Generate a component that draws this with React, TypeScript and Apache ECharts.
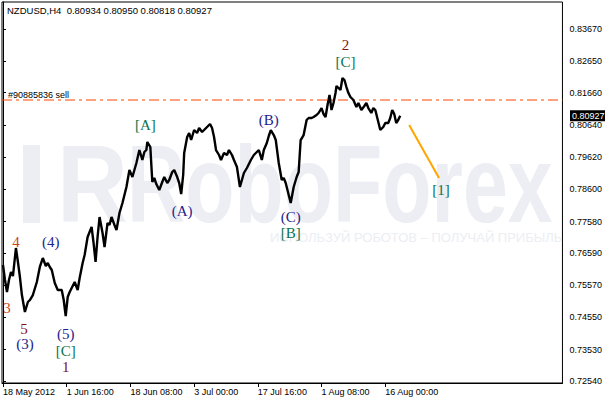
import React, { useEffect, useRef } from "react";
import * as echarts from "echarts";

// ---- data ----
const symbolTitle = "NZDUSD,H4";
const lastOhlc = ["0.80934", "0.80950", "0.80818", "0.80927"];
const yTicks = [0.7254, 0.7353, 0.7455, 0.7557, 0.7659, 0.7758, 0.786, 0.7962, 0.8064, 0.8166, 0.8265, 0.8367];
const xTicks = [0, 64, 128, 192, 256, 320, 384];
const xTickLabels = ["18 May 2012", "1 Jun 16:00", "18 Jun 08:00", "3 Jul 00:00", "17 Jul 16:00", "1 Aug 08:00", "16 Aug 00:00"];
const xRange = [-1, 562];
const yRange = [0.72477, 0.84524];
const sellPrice = 0.81425;
const sellLabel = "#90885836 sell";
const lastClose = 0.80927;

// [bar index (H4 bars from 18 May 2012), close]
const closes: [number, number][] = [
  [0, 0.76208], [2, 0.75734], [4, 0.75354], [6, 0.75734], [8, 0.75987], [10, 0.7586], [13, 0.76745], [15, 0.76303],
  [17, 0.75828], [19, 0.75259], [22, 0.74722], [25, 0.75038], [27, 0.75101], [30, 0.75259], [34, 0.7567], [37, 0.76145],
  [40, 0.76429], [43, 0.76176], [45, 0.76271], [47, 0.76145], [49, 0.7605], [52, 0.75639], [55, 0.75417], [59, 0.75417],
  [61, 0.75101], [63, 0.74595], [65, 0.75196], [67, 0.75354], [69, 0.75481], [72, 0.7567], [75, 0.75417], [77, 0.75797],
  [80, 0.76271], [82, 0.76524], [85, 0.77093], [87, 0.77251], [89, 0.77409], [91, 0.76903], [93, 0.76303], [95, 0.77093],
  [97, 0.77726], [100, 0.7722], [102, 0.76777], [105, 0.77536], [107, 0.77473], [109, 0.77726], [112, 0.77473], [114, 0.77315],
  [117, 0.77852], [120, 0.78168], [122, 0.78421], [124, 0.78674], [127, 0.79212], [130, 0.7899], [132, 0.79212], [134, 0.79433],
  [137, 0.79844], [140, 0.79528], [142, 0.79781], [144, 0.79844], [145, 0.80097], [148, 0.79939], [150, 0.78832], [152, 0.78959],
  [154, 0.78769], [157, 0.78579], [160, 0.78832], [162, 0.7899], [165, 0.78801], [167, 0.78896], [170, 0.79149], [172, 0.79212],
  [175, 0.7899], [177, 0.78801], [179, 0.78453], [181, 0.79054], [182, 0.79749], [185, 0.80255], [187, 0.80382], [189, 0.8016],
  [192, 0.80476], [195, 0.80382], [197, 0.8054], [200, 0.80413], [202, 0.80476], [205, 0.80571], [208, 0.80666], [210, 0.8054],
  [212, 0.80255], [214, 0.79844], [217, 0.79686], [219, 0.79528], [222, 0.79749], [225, 0.79686], [227, 0.79844], [230, 0.79686],
  [232, 0.79528], [235, 0.79307], [238, 0.78674], [240, 0.78896], [242, 0.79117], [245, 0.79275], [249, 0.79528], [252, 0.79686],
  [255, 0.79781], [257, 0.79844], [260, 0.79528], [262, 0.79844], [265, 0.80065], [267, 0.80287], [269, 0.80476], [272, 0.80318],
  [274, 0.8016], [277, 0.79433], [280, 0.78896], [282, 0.78959], [284, 0.78801], [287, 0.78421], [289, 0.78168], [292, 0.78674],
  [295, 0.7899], [297, 0.79149], [299, 0.8016], [302, 0.80318], [305, 0.80793], [307, 0.80856], [310, 0.80856], [312, 0.80888],
  [315, 0.80951], [317, 0.81014], [320, 0.81172], [322, 0.80982], [324, 0.80888], [326, 0.81267], [328, 0.81583], [330, 0.81109],
  [332, 0.8133], [334, 0.81646], [335, 0.81868], [337, 0.81804], [339, 0.81741], [341, 0.82121], [343, 0.82057], [345, 0.81836],
  [347, 0.81646], [349, 0.8152], [352, 0.81425], [355, 0.81204], [357, 0.8133], [360, 0.81109], [363, 0.81235], [365, 0.8133],
  [367, 0.81172], [370, 0.81014], [372, 0.81172], [374, 0.81109], [377, 0.80729], [379, 0.80476], [382, 0.80571], [384, 0.80698],
  [387, 0.80698], [389, 0.80856], [391, 0.81109], [393, 0.80982], [395, 0.80698], [397, 0.80793], [399, 0.80927],
];

const projectionWave: [number, number][] = [[408, 0.80635], [438, 0.78959]];

const waveLabels = ["4", "(4)", "3", "5", "(3)", "(5)", "[C]", "1", "[A]", "(A)", "(B)", "(C)", "[B]", "2", "[C]", "[1]"];
const waveIdx = [13, 48, 4, 21, 22, 63, 63, 63, 143, 180, 267, 289, 289, 344, 344, 440];
const wavePrice = [0.76935, 0.76935, 0.74848, 0.74184, 0.7371, 0.74026, 0.73489, 0.72983, 0.80635, 0.77915, 0.80793, 0.77726, 0.7722, 0.83164, 0.82627, 0.78579];

// ---- styles ----
const GREEN = "#0a7450";
const NAVY = "#23238c";
const digitColors: Record<string, string> = { "1": "#801030", "2": "#801818", "3": "#c8461e", "4": "#c8461e", "5": "#801010" };
const WM = "#eceef3";
const AXIS_FONT = '"Liberation Sans", Arial, sans-serif';

function waveColor(t: string) {
  if (t.startsWith("[")) return GREEN;
  if (t.startsWith("(")) return NAVY;
  return digitColors[t] || "#801818";
}

function staticGraphics() {
  return [
    { id: "wm-bar", type: "rect", silent: true, z: 0, shape: { x: 23, y: 145, width: 17, height: 78 }, style: { fill: WM } },
    {
      id: "wm-r", type: "text", silent: true, z: 0, x: 57, y: 184, scaleX: 0.9,
      style: { text: "R", font: 'bold 109px "Liberation Sans"', fill: WM, align: "left", verticalAlign: "middle" },
    },
    {
      id: "wm-name", type: "text", silent: true, z: 0, x: 127, y: 184, scaleX: 0.74,
      style: { text: "RoboForex", font: 'bold 109px "Liberation Sans"', fill: WM, align: "left", verticalAlign: "middle" },
    },
    {
      id: "wm-slogan", type: "text", silent: true, z: 0, x: 270, y: 237,
      style: { text: "ИСПОЛЬЗУЙ РОБОТОВ – ПОЛУЧАЙ ПРИБЫЛЬ", font: '13px "Liberation Sans"', fill: WM, align: "left", verticalAlign: "middle" },
    },
    {
      id: "title", type: "text", silent: true, z: 10, x: 7, y: 10,
      style: { text: symbolTitle + "  " + lastOhlc.join(" "), font: '9.5px "Liberation Sans"', fill: "#000", align: "left", verticalAlign: "middle" },
    },
  ];
}

export default function App() {
  const ref = useRef<HTMLDivElement>(null);
  useEffect(() => {
    if (!ref.current) return;
    const chart = echarts.init(ref.current, undefined, { renderer: "svg" });
    const option: any = {
      animation: false,
      backgroundColor: "#ffffff",
      grid: { left: 2, right: 40, top: 2, bottom: 18, show: true, borderColor: "#000", borderWidth: 1, backgroundColor: "transparent" },
      xAxis: {
        type: "value",
        min: xRange[0],
        max: xRange[1],
        axisLine: { show: true, lineStyle: { color: "#000", width: 1 } },
        axisTick: { show: true, customValues: xTicks, length: 4, lineStyle: { color: "#000" } },
        axisLabel: {
          customValues: xTicks,
          formatter: (v: number) => xTickLabels[xTicks.indexOf(v)] ?? "",
          align: "left",
          margin: 4,
          color: "#000",
          fontSize: 9,
          fontFamily: AXIS_FONT,
        },
        splitLine: { show: false },
      },
      yAxis: {
        type: "value",
        position: "right",
        min: yRange[0],
        max: yRange[1],
        axisLine: { show: true, lineStyle: { color: "#000", width: 1 } },
        axisTick: { show: true, customValues: yTicks, length: 3, lineStyle: { color: "#000" } },
        axisLabel: {
          customValues: yTicks,
          formatter: (v: number) => v.toFixed(5),
          margin: 7,
          color: "#000",
          fontSize: 9,
          fontFamily: AXIS_FONT,
        },
        splitLine: { show: false },
      },
      graphic: staticGraphics(),
      series: [
        {
          type: "line",
          data: [[xRange[0], sellPrice], [xRange[1], sellPrice]],
          showSymbol: false,
          silent: true,
          lineStyle: { color: "#ff4500", width: 1, type: [10, 4, 3, 4] },
          z: 2,
        },
        {
          type: "line",
          data: closes,
          showSymbol: false,
          lineStyle: { color: "#000", width: 2.4 },
          z: 3,
        },
        {
          type: "line",
          data: projectionWave,
          showSymbol: false,
          lineStyle: { color: "#ffa500", width: 2 },
          z: 3,
        },
        {
          type: "scatter",
          symbolSize: 1,
          itemStyle: { color: "rgba(0,0,0,0)", opacity: 1 },
          z: 4,
          data: waveLabels.map((t, i) => ({
            value: [waveIdx[i], wavePrice[i]],
            label: { formatter: t, color: waveColor(t) },
          })),
          label: {
            show: true,
            position: "inside",
            fontFamily: '"Liberation Serif", "Times New Roman", serif',
            fontSize: 15,
            textBorderWidth: 0,
            textBorderColor: "transparent",
            opacity: 1,
          },
        },
      ],
    };
    chart.setOption(option);

    const sellY = chart.convertToPixel({ yAxisIndex: 0 }, sellPrice) as number;
    const lastY = chart.convertToPixel({ yAxisIndex: 0 }, lastClose) as number;
    chart.setOption({
      graphic: [
        ...staticGraphics(),
        {
          id: "sell-label", type: "text", silent: true, z: 10, x: 8, y: sellY - 5,
          style: { text: sellLabel, font: '9px "Liberation Sans"', fill: "#000", align: "left", verticalAlign: "middle" },
        },
        {
          id: "last-price", type: "text", silent: true, z: 20, x: 570, y: lastY,
          style: {
            text: lastClose.toFixed(5), font: '9px "Liberation Sans"', fill: "#fff",
            backgroundColor: "#000", padding: [1, 2, 1, 2], align: "left", verticalAlign: "middle",
          },
        },
      ],
    });
    return () => chart.dispose();
  }, []);
  return (
    <div style={{ position: "fixed", left: 0, top: 0, width: 605, height: 401, background: "#fff" }}>
      <div ref={ref} style={{ width: 605, height: 401 }} />
    </div>
  );
}
